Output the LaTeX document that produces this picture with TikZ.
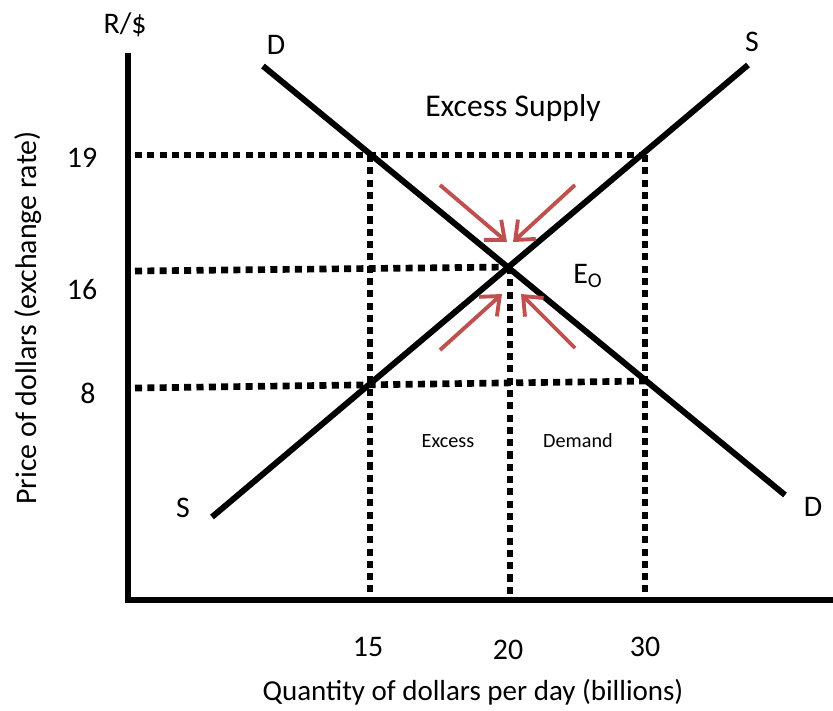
\documentclass[tikz,border=0pt]{standalone}
\usepackage{fontspec}
\setmainfont{Carlito}
\usetikzlibrary{arrows.meta}
\definecolor{arrowred}{RGB}{192,80,77}
\tikzset{
  axisline/.style={line width=3.4pt},
  curve/.style={line width=3.4pt},
  guide/.style={line width=3.8pt, dash pattern=on 4pt off 3pt},
  pushes/.style={line width=2.2pt, draw=arrowred, -{Straight Barb[length=9pt,width=15pt]}},
  lbl/.style={font=\fontsize{17}{20}\selectfont, inner sep=0pt},
  small/.style={font=\fontsize{11.5}{14}\selectfont, inner sep=0pt}
}
\begin{document}
\begin{tikzpicture}[x=0.02cm, y=-0.02cm]
\useasboundingbox (0,0) rectangle (833,711);

% axes
\coordinate (top) at (128,53);
\coordinate (origin) at (128,600);
\coordinate (right) at (833,600);
\draw[axisline] (top) -- (origin) -- (right);

\node[lbl] (rs) at (125,25) {R/\$};
\node[lbl, rotate=90] (ylab) at (28,318) {Price of dollars (exchange rate)};
\node[lbl, font=\fontsize{16.5}{20}\selectfont] (xlab) at (473,692) {Quantity of dollars per day (billions)};

% price and quantity marks
\node[lbl] (p19) at (82,158) {19};
\node[lbl] (p16) at (82,290) {16};
\node[lbl] (p8) at (88,393) {8};
\node[lbl] (q15) at (368,647) {15};
\node[lbl] (q20) at (508,650) {20};
\node[lbl] (q30) at (645,647) {30};

% dotted guides
\coordinate (e) at (510,267);
\draw[guide] (135,155) -- (640,155);
\draw[guide] (135,271) -- (e);
\draw[guide] (135,388) -- (648,381);
\draw[guide] (370,155) -- (370,598);
\draw[guide] (e) -- (510,598);
\draw[guide] (645,155) -- (645,598);

% demand and supply
\coordinate (dtop) at (263,66);
\coordinate (dbot) at (785,495);
\coordinate (sbot) at (212,517);
\coordinate (stop) at (748,65);
\draw[curve] (dtop) -- (dbot);
\draw[curve] (sbot) -- (stop);
\node[lbl] (dl1) at (276,45) {D};
\node[lbl] (dl2) at (813,507) {D};
\node[lbl] (sl1) at (752,42) {S};
\node[lbl] (sl2) at (183,508) {S};

% labels
\node[font=\fontsize{18}{21}\selectfont, inner sep=0pt] (exs) at (513,108) {Excess Supply};
\node[small] (ex) at (448,441) {Excess};
\node[small] (dem) at (578,441) {Demand};
\node[lbl] (eq) at (588,276) {E\textsubscript{O}};

% pressure towards equilibrium
\draw[pushes] (440,185) -- (507,242);
\draw[pushes] (575,185) -- (513,242);
\draw[pushes] (440,350) -- (502,294);
\draw[pushes] (575,348) -- (521,294);
\end{tikzpicture}
\end{document}
